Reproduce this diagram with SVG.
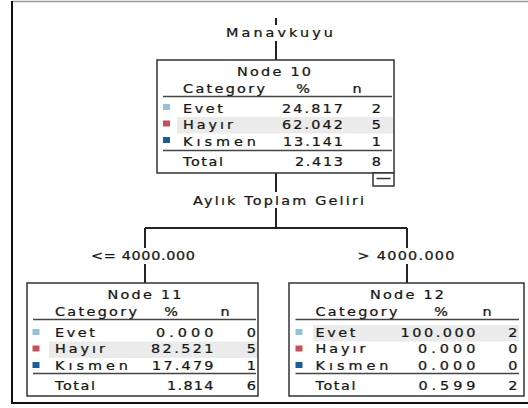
<svg xmlns="http://www.w3.org/2000/svg" width="528" height="408" viewBox="0 0 528 408">
<style>
text{font-family:"DejaVu Sans","Liberation Sans",sans-serif;font-size:12px;fill:#161616;stroke:#161616;stroke-width:0.25}
.m{text-anchor:middle}
.e{text-anchor:end}
.box{fill:#fff;stroke:#333;stroke-width:1.5}
.sep{stroke:#444;stroke-width:1.5}
.band{fill:#ebebeb}
.c{stroke:#222;stroke-width:2;fill:none}
.evet{fill:#93c3dc}
.hayir{fill:#c64f58}
.kismen{fill:#1b5e98}
</style>
<g id="frame">
<line x1="12" y1="1.5" x2="528" y2="1.5" stroke="#999" stroke-width="1.5"/>
<line x1="12" y1="1" x2="12" y2="404" stroke="#111" stroke-width="2"/>
<line x1="11" y1="403" x2="528" y2="403" stroke="#111" stroke-width="2"/>
</g>
<g id="connectors">
<path class="c" d="M276 18V25M276 41V60M276 173V192M276 208V228M145 228H407M145 228V248M145 264V283M407 228V248M407 264V283"/>
<g transform="scale(1.2,1)">
<text class="m" x="232.92" y="37" textLength="89.17">Manavkuyu</text>
<text class="m" x="232.08" y="205" textLength="142.5">Aylık Toplam Geliri</text>
<text class="m" x="119.17" y="260" textLength="86.67">&lt;= 4000.000</text>
<text class="m" x="338.33" y="260" textLength="80.83">&gt; 4000.000</text>
</g>
</g>
<g id="node10" transform="translate(157,60)">
<rect class="box" x="0" y="0" width="237" height="113"/>
<rect class="band" x="20" y="57" width="216" height="16.5"/>
<line class="sep" x1="6" y1="36.5" x2="235" y2="36.5"/>
<rect class="evet" x="6" y="44" width="7" height="6"/>
<rect class="hayir" x="6" y="60.5" width="7" height="6"/>
<rect class="kismen" x="6" y="77" width="7" height="6"/>
<line class="sep" x1="6" y1="90.5" x2="235" y2="90.5"/>
<g transform="scale(1.2,1)">
<text class="m" x="97.5" y="16" textLength="61.67">Node 10</text>
<text x="21.67" y="33" textLength="68.33">Category</text>
<text class="m" x="121.67" y="33">%</text>
<text class="m" x="166.67" y="33">n</text>
<text x="21.67" y="53" textLength="33.33">Evet</text>
<text x="21.67" y="69.5" textLength="41.67">Hayır</text>
<text x="21.67" y="86" textLength="60.83">Kısmen</text>
<text class="e" x="155" y="53" textLength="50.83">24.817</text>
<text class="e" x="155" y="69.5" textLength="50.83">62.042</text>
<text class="e" x="155" y="86" textLength="50">13.141</text>
<text class="e" x="186.67" y="53">2</text>
<text class="e" x="186.67" y="69.5">5</text>
<text class="e" x="186.67" y="86">1</text>
<text x="21.67" y="106.5" textLength="33.33">Total</text>
<text class="e" x="155" y="106.5" textLength="40">2.413</text>
<text class="e" x="186.67" y="106.5">8</text>
</g>
</g>
<g id="collapse">
<rect x="373" y="173" width="21" height="13" fill="#fff" stroke="#333" stroke-width="1.5"/>
<line x1="376.5" y1="178.5" x2="390.5" y2="178.5" stroke="#333" stroke-width="1.5"/>
</g>
<g id="node11" transform="translate(27,283)">
<rect class="box" x="0" y="0" width="231" height="113"/>
<rect class="band" x="22" y="58.5" width="208" height="16.5"/>
<line class="sep" x1="6" y1="36.5" x2="229" y2="36.5"/>
<rect class="evet" x="5.5" y="46" width="7" height="6"/>
<rect class="hayir" x="5.5" y="62.5" width="7" height="6"/>
<rect class="kismen" x="5.5" y="79" width="7" height="6"/>
<line class="sep" x1="6" y1="90.5" x2="229" y2="90.5"/>
<g transform="scale(1.2,1)">
<text class="m" x="97.92" y="16" textLength="61.67">Node 11</text>
<text x="23.33" y="33" textLength="68.33">Category</text>
<text class="m" x="120" y="33">%</text>
<text class="m" x="165" y="33">n</text>
<text x="23.33" y="54" textLength="33.33">Evet</text>
<text x="23.33" y="70.5" textLength="41.67">Hayır</text>
<text x="23.33" y="87" textLength="60.83">Kısmen</text>
<text class="e" x="155.42" y="54" textLength="47.92">0.000</text>
<text class="e" x="155.42" y="70.5" textLength="52.08">82.521</text>
<text class="e" x="155.42" y="87" textLength="51.25">17.479</text>
<text class="e" x="190.83" y="54">0</text>
<text class="e" x="190.83" y="70.5">5</text>
<text class="e" x="190.83" y="87">1</text>
<text x="23.33" y="107" textLength="33.33">Total</text>
<text class="e" x="155.42" y="107" textLength="38.75">1.814</text>
<text class="e" x="190.83" y="107">6</text>
</g>
</g>
<g id="node12" transform="translate(289,283)">
<rect class="box" x="0" y="0" width="235" height="113"/>
<rect class="band" x="24" y="42" width="206" height="16.5"/>
<line class="sep" x1="6.5" y1="36.5" x2="230" y2="36.5"/>
<rect class="evet" x="6.5" y="46" width="7" height="6"/>
<rect class="hayir" x="6.5" y="62.5" width="7" height="6"/>
<rect class="kismen" x="6.5" y="79" width="7" height="6"/>
<line class="sep" x1="6.5" y1="90.5" x2="230" y2="90.5"/>
<g transform="scale(1.2,1)">
<text class="m" x="98.33" y="16" textLength="61.67">Node 12</text>
<text x="22.08" y="33" textLength="68.33">Category</text>
<text class="m" x="126.67" y="33">%</text>
<text class="m" x="165" y="33">n</text>
<text x="22.08" y="54" textLength="33.33">Evet</text>
<text x="22.08" y="70.5" textLength="41.67">Hayır</text>
<text x="22.08" y="87" textLength="60.83">Kısmen</text>
<text class="e" x="155.42" y="54" textLength="62.5">100.000</text>
<text class="e" x="155.42" y="70.5" textLength="47.92">0.000</text>
<text class="e" x="155.42" y="87" textLength="47.92">0.000</text>
<text class="e" x="190.42" y="54">2</text>
<text class="e" x="190.42" y="70.5">0</text>
<text class="e" x="190.42" y="87">0</text>
<text x="22.08" y="107" textLength="33.33">Total</text>
<text class="e" x="155.42" y="107" textLength="47.5">0.599</text>
<text class="e" x="190.42" y="107">2</text>
</g>
</g>
</svg>
